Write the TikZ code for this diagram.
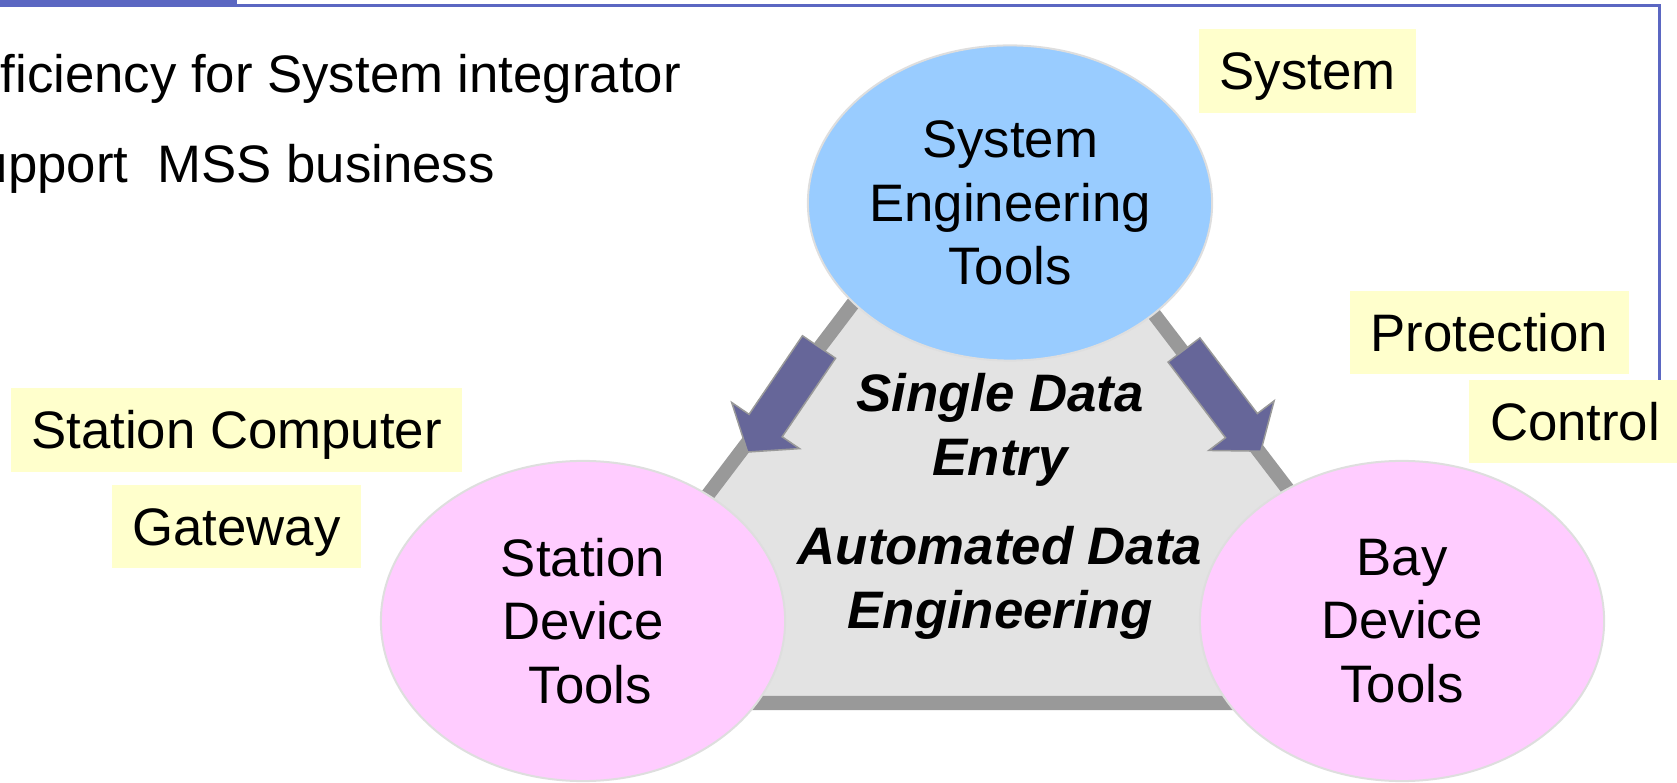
\documentclass[tikz,border=0pt]{standalone}
\usepackage{fontspec}
\setmainfont{Liberation Sans}
\usetikzlibrary{positioning, shapes.geometric}
\definecolor{frameblue}{RGB}{91, 103, 194}
\definecolor{sysblue}{RGB}{153, 204, 255}
\definecolor{devpink}{RGB}{255, 204, 255}
\definecolor{tagyellow}{RGB}{255, 255, 204}
\definecolor{trigrey}{RGB}{227, 227, 227}
\definecolor{edgegrey}{RGB}{153, 153, 153}
\definecolor{arrowpurple}{RGB}{102, 102, 153}
\newcommand{\bodyfont}{\fontsize{15}{18}\selectfont}

\begin{document}
\begin{tikzpicture}[
			x=0.01cm, y=-0.01cm,
			tool/.style={ellipse, draw=black!13, line width=0.02cm, inner sep=0pt, align=center, font=\bodyfont, minimum width=4.04cm, minimum height=3.2cm},
			tag/.style={rectangle, fill=tagyellow, inner xsep=0.205cm, inner ysep=0pt, minimum height=0.83cm, text height=10.8pt, text depth=0pt, font=\bodyfont},
			motto/.style={anchor=base west, inner sep=0pt, font=\bodyfont},
			claim/.style={align=center, font=\bodyfont\bfseries\itshape},
			dataarrow/.pic={\filldraw[fill=arrowpurple, draw=edgegrey, line width=0.015cm] (0,-20) -- (95,-20) -- (95,-41) -- (127,0) -- (95,41) -- (95,20) -- (0,20) -- cycle;}
		]
		\useasboundingbox (0,0) rectangle (1677,783);
		
		% Slide frame
		\fill[frameblue] (0,0) rectangle (237,7.5);
		\draw[frameblue, line width=0.03cm] (237,5.5) -- (1659,5.5) -- (1659,400);
		
		% Slide text
		\node[motto] (eff) at (0,93) {ficiency for System integrator};
		\node[motto] (mss) at (-22,183) {upport\ \ MSS business};
		
		% Data triangle
		\coordinate (apex) at (999,111);
		\coordinate (cornerR) at (1451,703);
		\coordinate (cornerL) at (550,703);
		\filldraw[fill=trigrey, draw=edgegrey, line width=0.14cm] (apex) -- (cornerR) -- (cornerL) -- cycle;
		
		% Tools
		\node[tool, fill=sysblue, minimum height=3.15cm] (set) at (1010,203) {System\\Engineering\\Tools};
		\node[tool, fill=devpink] (sdt) at (583,621) {Station\\Device\\\ Tools};
		\node[tool, fill=devpink] (bdt) at (1402,621) {Bay\\Device\\Tools};
		
		% Data flow
		\pic[rotate=-124.2] (flowL) at (819,347) {dataarrow};
		\pic[rotate=-52.8] (flowR) at (1184,350) {dataarrow};
		
		% Claims
		\node[claim] (sde) at (1000,430) {Single Data\\Entry};
		\node[claim] (ade) at (1000,583) {Automated Data\\Engineering};
		
		% Levels
		\node[tag] (tsys) at (1307.5,71) {System};
		\node[tag] (tprot) at (1489.5,332.5) {Protection};
		\node[tag] (tctrl) at (1575,421.5) {Control};
		\node[tag] (tstc) at (236.5,430) {Station Computer};
		\node[tag, below=0.12cm of tstc] (tgw) {Gateway};
		\end{tikzpicture}
\end{document}
